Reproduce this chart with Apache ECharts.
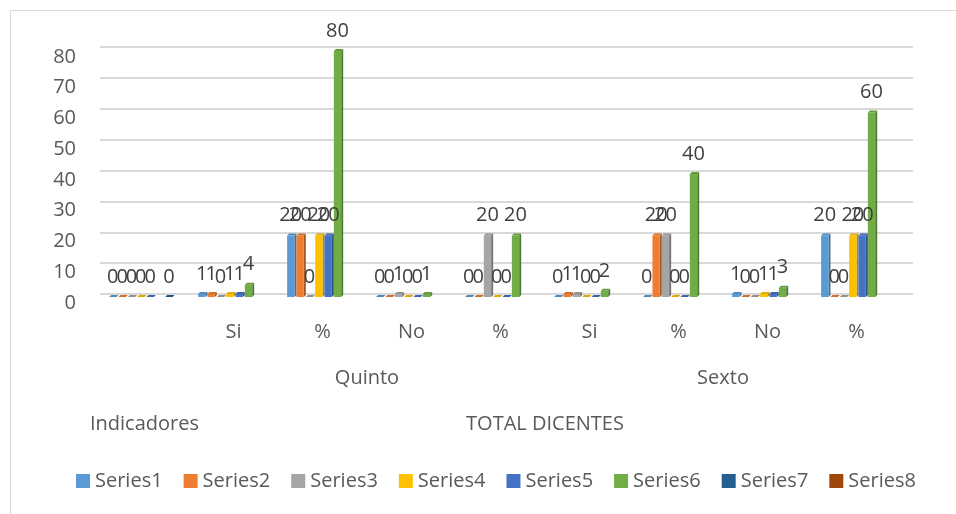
<!DOCTYPE html>
<html>
<head>
<meta charset="utf-8">
<script src="https://cdn.jsdelivr.net/npm/echarts@6/dist/echarts.min.js"></script>
<style>
  html, body { margin: 0; padding: 0; background: #fff; }
  #chart { width: 956px; height: 514px; }
</style>
</head>
<body>
<div id="chart"></div>
<script>
const categories = ['', 'Si', '%', 'No', '%', 'Si', '%', 'No', '%']
// group rows under the categories (19 slots = category edges and centres)
const groupLabels = ['', '', '', '', '', '', 'Quinto', '', '', '', '', '', '', '', 'Sexto', '', '', '', '']
const outerLabels = ['', 'Indicadores', '', '', '', '', '', '', '', '', 'TOTAL DICENTES', '', '', '', '', '', '', '', '']
const seriesNames = ['Series1', 'Series2', 'Series3', 'Series4', 'Series5', 'Series6', 'Series7', 'Series8']
const series1 = [0, 1, 20, 0, 0, 0, 0, 1, 20]
const series2 = [0, 1, 20, 0, 0, 1, 20, 0, 0]
const series3 = [0, 0, 0, 1, 20, 1, 20, 0, 0]
const series4 = [0, 1, 20, 0, 0, 0, 0, 1, 20]
const series5 = [0, 1, 20, 0, 0, 0, 0, 1, 20]
const series6 = [null, 4, 80, 1, 20, 2, 40, 3, 60]
const series7 = [0, null, null, null, null, null, null, null, null]
const series8 = [null, null, null, null, null, null, null, null, null]
const yTicks = [0, 80, 10]

const colors = ['#5B9BD5', '#ED7D31', '#A5A5A5', '#FFC000', '#4472C4', '#70AD47', '#255E91', '#9E480E']
const font = '"Open Sans", "DejaVu Sans", sans-serif'

function shade(hex, k) {
  const n = parseInt(hex.slice(1), 16)
  const r = Math.round(((n >> 16) & 255) * k)
  const g = Math.round(((n >> 8) & 255) * k)
  const b = Math.round((n & 255) * k)
  return 'rgb(' + Math.min(r, 255) + ',' + Math.min(g, 255) + ',' + Math.min(b, 255) + ')'
}

// 3d-ish clustered bar
function renderBar(params, api) {
  const cat = api.value(0)
  const v = api.value(1)
  if (isNaN(v)) return null
  const base = api.coord([cat, 0])
  const top = api.coord([cat, v])
  const band = api.size([1, 0])[0]
  const groupW = band * 0.84
  const slot = groupW / seriesNames.length
  const d = 2
  const w = slot - d
  const x0 = base[0] - groupW / 2 + params.seriesIndex * slot + 2
  const yb = base[1]
  const yt = top[1]
  const c = colors[params.seriesIndex]
  return {
    type: 'group',
    children: [
      {
        type: 'polygon',
        shape: { points: [[x0 + w, yt], [x0 + w + d, yt - d], [x0 + w + d, yb - d], [x0 + w, yb]] },
        style: { fill: shade(c, 0.7) }
      },
      {
        type: 'polygon',
        shape: { points: [[x0, yt], [x0 + d, yt - d], [x0 + w + d, yt - d], [x0 + w, yt]] },
        style: { fill: shade(c, 0.88) }
      },
      {
        type: 'rect',
        shape: { x: x0, y: yt, width: w, height: yb - yt },
        style: { fill: c },
        textContent: {
          style: { text: String(v), fill: '#404040', fontSize: 20, fontFamily: font }
        },
        textConfig: { position: 'top', distance: 10 }
      }
    ]
  }
}

const allValues = [series1, series2, series3, series4, series5, series6, series7, series8]

const dom = echarts.init(document.getElementById('chart'))
const option = {
  animation: false,
  color: colors,
  textStyle: { fontFamily: font },
  graphic: [{
    type: 'rect',
    silent: true,
    shape: { x: 10.5, y: 10.5, width: 960, height: 520 },
    style: { fill: 'none', stroke: '#d9d9d9', lineWidth: 1 }
  }],
  legend: {
    data: seriesNames,
    left: 76,
    top: 471,
    padding: 0,
    icon: 'rect',
    itemWidth: 14,
    itemHeight: 14,
    itemGap: 21,
    textStyle: { color: '#595959', fontSize: 20, fontFamily: font }
  },
  grid: [
    { left: 100, right: 55, top: 51, bottom: 217 },
    { left: 100, right: 43, top: 47, bottom: 220 },
    { left: 100, right: 55, top: 57, bottom: 211 }
  ],
  xAxis: [
    {
      type: 'category',
      gridIndex: 0,
      data: categories,
      axisLine: { show: false },
      axisTick: { show: false },
      axisLabel: { interval: 0, margin: 25, color: '#595959', fontSize: 20, fontFamily: font }
    },
    {
      type: 'category',
      gridIndex: 0,
      position: 'bottom',
      offset: 46,
      boundaryGap: false,
      data: groupLabels,
      axisLine: { show: false },
      axisTick: { show: false },
      axisLabel: { interval: 0, margin: 25, color: '#595959', fontSize: 20, fontFamily: font }
    },
    {
      type: 'category',
      gridIndex: 0,
      position: 'bottom',
      offset: 92,
      boundaryGap: false,
      data: outerLabels,
      axisLine: { show: false },
      axisTick: { show: false },
      axisLabel: { interval: 0, margin: 25, color: '#595959', fontSize: 20, fontFamily: font }
    },
    { type: 'category', gridIndex: 1, data: categories, show: false },
    { type: 'category', gridIndex: 2, data: categories, show: false }
  ],
  yAxis: [
    {
      type: 'value',
      gridIndex: 0,
      min: yTicks[0],
      max: yTicks[1],
      interval: yTicks[2],
      show: false
    },
    {
      type: 'value',
      gridIndex: 1,
      min: yTicks[0],
      max: yTicks[1],
      interval: yTicks[2],
      axisLine: { show: false },
      axisTick: { show: false },
      axisLabel: { show: false },
      splitLine: { lineStyle: { color: '#d9d9d9', width: 2 } }
    },
    {
      type: 'value',
      gridIndex: 2,
      min: yTicks[0],
      max: yTicks[1],
      interval: yTicks[2],
      axisLine: { show: false },
      axisTick: { show: false },
      splitLine: { show: false },
      axisLabel: { margin: 24, color: '#595959', fontSize: 20, fontFamily: font }
    }
  ],
  series: allValues.map((vals, s) => ({
    name: seriesNames[s],
    type: 'custom',
    xAxisIndex: 0,
    yAxisIndex: 0,
    renderItem: renderBar,
    encode: { x: 0, y: 1 },
    data: vals.map((v, i) => [i, v]).filter(p => p[1] !== null)
  }))
}
dom.setOption(option)
</script>
</body>
</html>
